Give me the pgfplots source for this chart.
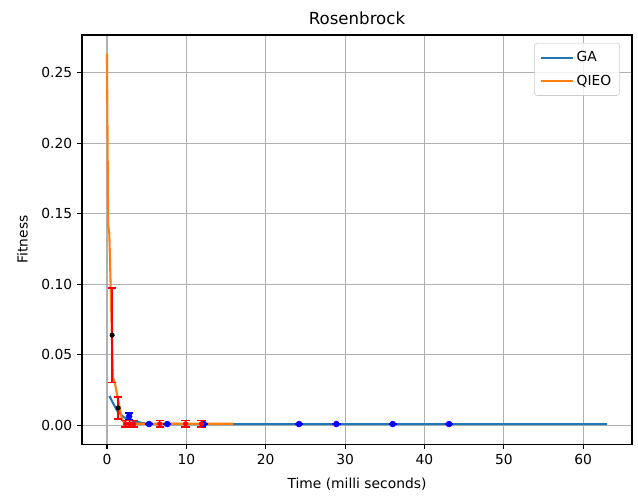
\documentclass[border=0pt]{standalone}
\usepackage{fontspec}
\setmainfont{DejaVu Sans}
\usepackage{pgfplots}
\pgfplotsset{compat=1.18}
\definecolor{mplblue}{HTML}{1F77B4}
\definecolor{mplorange}{HTML}{FF7F0E}
\definecolor{gridgray}{HTML}{B0B0B0}
\definecolor{legframe}{HTML}{CCCCCC}
\begin{document}
\begin{tikzpicture}
\begin{axis}[
  scale only axis, width=396bp, height=294.5bp,
  xmin=-3.15, xmax=66.15, ymin=-0.0132, ymax=0.2768,
  xtick={0,10,20,30,40,50,60}, ytick={0,0.05,0.10,0.15,0.20,0.25},
  grid=major, grid style={gridgray, line width=0.8bp},
  axis line style={line width=0.8bp},
  every tick/.style={black, line width=0.8bp},
  tick align=outside, major tick length=3.5bp,
  xtick pos=lower, ytick pos=left,
  yticklabel style={/pgf/number format/.cd, fixed, fixed zerofill, precision=2},
  scaled y ticks=false,
  /pgf/number format/assume math mode=true,
  ticklabel style={font=\fontsize{10}{12}\selectfont},
  title={Rosenbrock}, title style={font=\fontsize{12}{14}\selectfont, yshift=-2bp},
  xlabel={Time (milli seconds)}, ylabel={Fitness},
  label style={font=\fontsize{10}{12}\selectfont},
  xlabel style={yshift=-3bp},
  ylabel style={yshift=3bp},
  legend style={at={(rel axis cs:0.978,0.981)}, anchor=north east, draw=legframe, rounded corners=2bp,
    fill=white, fill opacity=0.8, text opacity=1, font=\fontsize{10}{12}\selectfont,
    row sep=4bp, inner xsep=4bp, inner ysep=4bp},
  legend cell align=left,
  legend image code/.code={\draw[#1, line width=1.5bp] (0bp,0bp) -- (23bp,0bp);},
]
\addplot[mplblue, line width=1.5bp] coordinates {
(0.31,0.0210) (0.7,0.0165) (1.28,0.0106) (2.1,0.0059) (2.8,0.0042) (3.4,0.0030) (4.6,0.0016) (6.0,0.0011) (10,0.0010) (20,0.0010) (40,0.0010) (63.0,0.0010)};
\addlegendentry{GA}
\addplot[mplorange, line width=1.5bp] coordinates {
(0.0,0.2636) (0.15,0.142) (0.3,0.136) (0.75,0.034) (1.0,0.030) (1.9,0.004) (2.3,0.0012) (8,0.0012) (15.9,0.0012)};
\addlegendentry{QIEO}
% GA error bars
\addplot[forget plot, only marks, blue, mark=*, mark size=2.1bp,
  error bars/.cd, y dir=both, y explicit,
  error bar style={blue, line width=1bp}, error mark options={rotate=90, blue, mark size=3bp, line width=1bp}]
  coordinates {
  (2.8,0.0065) +- (0,0.0022)
  (5.3,0.0010) +- (0,0.0004)
  (7.6,0.0010) +- (0,0.0004)
  (12.2,0.0010) +- (0,0.0004)
  (24.2,0.0010) +- (0,0.0003)
  (28.9,0.0010) +- (0,0.0003)
  (36.0,0.0010) +- (0,0.0003)
  (43.1,0.0010) +- (0,0.0003)};
% QIEO error bars
\addplot[forget plot, only marks, black, mark=*, mark size=1.6bp,
  error bars/.cd, y dir=both, y explicit,
  error bar style={red, line width=1bp}, error mark options={rotate=90, red, mark size=3bp, line width=1bp}]
  coordinates {
  (0.65,0.0640) +- (0,0.0335)
  (1.41,0.0124) +- (0,0.0077)};
\addplot[forget plot, only marks, red, mark=*, mark size=1.6bp,
  error bars/.cd, y dir=both, y explicit,
  error bar style={red, line width=1bp}, error mark options={rotate=90, red, mark size=3bp, line width=1bp}]
  coordinates {
  (2.33,0.0012) +- (0,0.0022)
  (2.87,0.0012) +- (0,0.0022)
  (3.38,0.0012) +- (0,0.0022)
  (6.65,0.0012) +- (0,0.0022)
  (9.9,0.0012) +- (0,0.0022)
  (11.9,0.0012) +- (0,0.0022)};
\coordinate (bl) at (rel axis cs:-0.149,-0.1247);
\coordinate (tr) at (rel axis cs:1.0109,1.0856);
\end{axis}
\useasboundingbox (bl) rectangle (tr);
\end{tikzpicture}
\end{document}
